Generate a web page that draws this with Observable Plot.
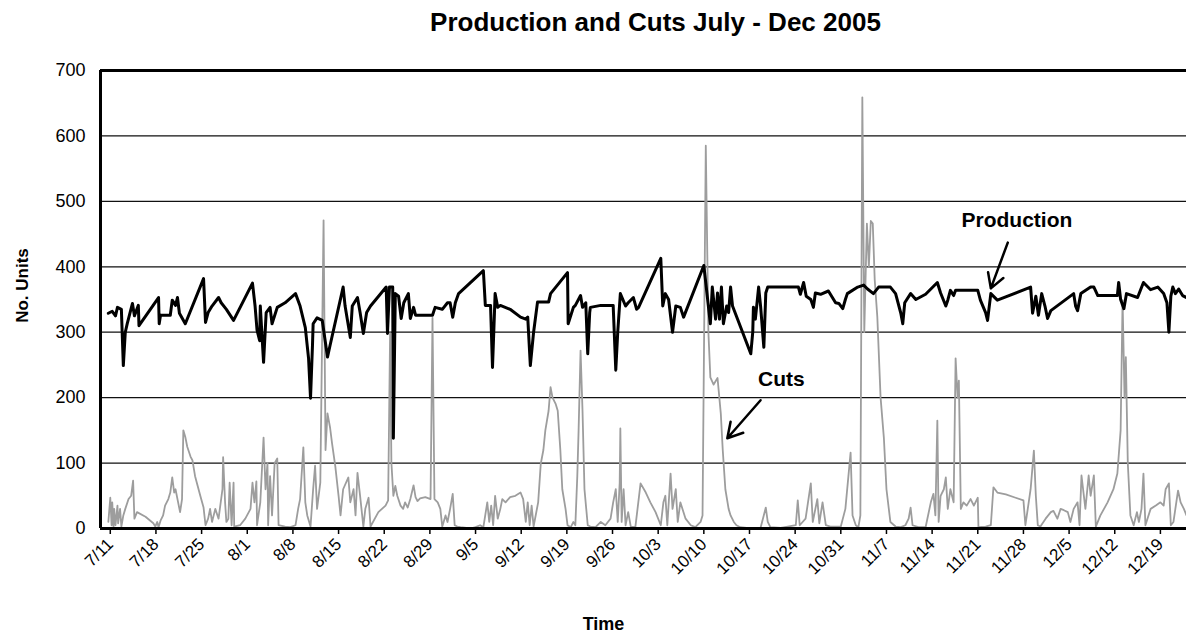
<!DOCTYPE html>
<html>
<head>
<meta charset="utf-8">
<script src="https://cdn.jsdelivr.net/npm/d3@7"></script>
<script src="https://cdn.jsdelivr.net/npm/@observablehq/plot@0.6"></script>
<style>
html, body { margin: 0; padding: 0; background: #fff; }
#chart svg { display: block; }
</style>
</head>
<body>
<div id="chart"></div>
<script>
// ---- Text ----
const chartTitle = "Production and Cuts July - Dec 2005";
const yLabel = "No. Units";
const xLabel = "Time";

// ---- Axis ticks ----
const weekLabels = ["7/11","7/18","7/25","8/1","8/8","8/15","8/22","8/29","9/5","9/12","9/19","9/26",
  "10/3","10/10","10/17","10/24","10/31","11/7","11/14","11/21","11/28","12/5","12/12","12/19"];
const yTicks = [0, 100, 200, 300, 400, 500, 600, 700];
const xStartDay = -1.5, xEndDay = 165; // days relative to 7/11/2005

// ---- Series: [day offset from 7/11/2005, units] ----
const production = [[-0.3,329],[0.3,332],[0.8,325],[1.1,338],[1.7,335],[2.0,249],[2.3,300],[2.6,313],[3.4,344],[3.7,325],
[4.3,341],[4.4,310],[7.4,353],[7.5,313],[7.7,326],[9.2,326],[9.5,349],[10.0,341],[10.3,353],[10.6,329],
[11.5,313],[14.3,382],[14.6,315],[15.0,330],[15.6,340],[16.6,353],[17.0,345],[17.8,335],[18.9,318],[21.8,375],
[22.2,340],[22.5,303],[22.9,287],[23.0,340],[23.5,254],[23.9,330],[24.5,338],[24.8,313],[25.6,338],[26.8,345],
[28.4,359],[29.1,340],[29.9,307],[30.4,260],[30.7,199],[31.0,280],[31.1,313],[31.7,322],[32.5,318],[33.3,262],
[33.7,280],[35.7,369],[36.0,340],[36.8,292],[37.1,340],[37.9,353],[38.3,330],[38.8,298],[39.3,330],[39.9,340],
[42.3,369],[42.5,298],[42.8,369],[43.3,369],[43.4,138],[43.7,359],[44.2,355],[44.6,321],[45.0,345],[45.7,359],
[46.0,321],[46.5,338],[46.8,326],[49.4,326],[49.8,338],[50.9,335],[51.7,345],[52.1,345],[52.5,323],[52.9,345],
[53.4,359],[57.2,394],[57.5,341],[58.3,341],[58.6,246],[58.9,330],[59.0,359],[59.4,338],[59.8,341],[61.3,335],
[62.9,323],[63.7,320],[64.0,323],[64.4,249],[64.9,300],[65.5,346],[67.2,346],[67.5,359],[70.1,391],[70.2,313],
[71.0,338],[71.3,341],[72.1,356],[72.4,338],[72.9,345],[73.2,267],[73.5,330],[73.6,338],[75.2,341],[77.1,341],
[77.5,242],[77.8,300],[78.2,359],[79.0,340],[79.4,345],[80.2,353],[80.7,335],[81.0,338],[84.4,413],[84.7,340],
[85.1,359],[85.6,350],[86.2,300],[86.7,340],[87.4,338],[87.9,323],[91.0,402],[92.0,313],[92.3,369],[92.8,320],
[93.1,360],[93.4,320],[93.7,369],[94.0,313],[94.5,340],[94.8,330],[95.1,369],[95.4,340],[98.2,267],[98.5,300],
[98.6,338],[98.9,320],[99.4,369],[99.7,340],[100.2,277],[100.5,360],[100.8,369],[101.7,369],[105.5,369],[105.8,358],
[106.3,376],[106.7,355],[107.4,350],[107.8,338],[108.1,360],[108.9,358],[110.1,363],[111.2,345],[111.7,344],[112.3,336],
[112.7,350],[113.0,359],[114.6,369],[115.5,372],[116.1,366],[117.0,359],[117.8,369],[119.6,369],[120.4,359],[121.2,329],
[121.5,313],[121.8,345],[122.7,359],[123.5,350],[125.0,358],[126.8,376],[127.3,360],[128.1,340],[128.4,349],[128.8,364],
[129.3,356],[129.6,364],[133.0,364],[133.4,349],[134.2,330],[134.5,318],[135.0,359],[136.0,349],[141.1,369],[141.4,329],
[141.9,355],[142.3,326],[142.8,359],[143.3,340],[143.7,321],[144.2,333],[147.7,359],[148.0,340],[148.3,333],[148.8,359],
[150.3,369],[150.8,369],[151.4,356],[154.4,356],[154.6,376],[154.9,350],[155.4,336],[155.8,359],[157.5,353],[158.4,376],
[159.5,365],[160.6,369],[161.5,359],[162.0,345],[162.3,300],[162.6,355],[162.9,369],[163.3,359],[163.8,366],[164.4,356],
[165.0,353]];

const cuts = [[-0.3,10],[0,47],[0.2,5],[0.3,40],[0.5,2],[0.6,30],[0.8,5],[1.1,35],[1.2,8],[1.5,30],
[1.7,3],[2.0,20],[2.3,30],[2.8,45],[3.2,50],[3.5,73],[3.7,15],[4.1,25],[5.4,18],[6.6,8],
[6.9,3],[7.2,10],[7.4,2],[7.7,12],[8.1,20],[8.4,35],[8.9,45],[9.2,55],[9.5,78],[9.8,55],
[10.0,60],[10.4,40],[10.7,25],[11.0,45],[11.2,150],[11.5,140],[11.8,125],[12.3,110],[12.6,104],[13.0,80],
[13.8,50],[14.3,32],[14.6,5],[15.0,15],[15.3,30],[15.6,10],[16.1,30],[16.6,15],[17.2,60],[17.3,109],
[17.6,40],[17.8,10],[18.1,15],[18.3,70],[18.6,5],[18.9,70],[19.0,3],[19.9,5],[20.7,15],[21.5,30],
[21.8,70],[22.1,40],[22.4,72],[22.5,5],[23.0,40],[23.5,139],[23.8,60],[24.1,100],[24.2,5],[24.5,80],
[24.8,20],[25.2,100],[25.6,107],[25.8,5],[26.8,3],[27.6,2],[28.4,5],[28.8,30],[29.1,45],[29.6,124],
[29.9,40],[30.2,20],[30.7,3],[31.1,60],[31.4,96],[31.7,30],[32.2,70],[32.7,471],[33.0,120],[33.3,176],
[33.7,154],[34.0,130],[34.5,95],[35.0,50],[35.3,20],[35.7,60],[36.5,78],[36.8,40],[37.3,60],[37.6,20],
[37.9,85],[38.3,50],[38.8,3],[39.1,30],[39.6,47],[39.9,3],[41.1,25],[42.2,35],[42.6,43],[42.9,298],
[43.1,100],[43.4,50],[43.7,65],[44.0,50],[44.5,35],[44.9,30],[45.2,40],[45.6,32],[46.0,45],[46.5,66],
[46.8,48],[47.1,42],[47.5,46],[48.3,48],[49.1,45],[49.4,322],[49.7,45],[50.2,40],[50.6,30],[50.9,3],
[51.4,20],[51.7,10],[52.1,30],[52.5,53],[52.8,5],[53.2,3],[53.7,2],[55.2,0],[56.0,2],[56.7,5],
[57.2,2],[57.8,40],[58.1,10],[58.4,35],[58.7,5],[59.0,50],[59.4,15],[59.8,30],[60.1,45],[60.6,40],
[61.3,48],[62.1,50],[62.9,55],[63.3,45],[63.7,10],[64.0,40],[64.3,5],[64.6,35],[64.9,3],[65.6,40],
[66.0,99],[66.4,120],[66.7,150],[67.2,180],[67.5,216],[67.8,200],[68.3,190],[68.6,180],[69.0,120],[69.3,60],
[69.8,30],[70.1,5],[70.6,2],[71.0,10],[71.3,5],[71.6,80],[71.8,150],[72.1,272],[72.4,180],[72.7,60],
[73.2,5],[73.6,3],[74.4,2],[75.2,10],[75.9,5],[76.7,15],[77.1,40],[77.5,60],[77.8,10],[78.1,70],
[78.2,153],[78.4,10],[78.7,60],[79.0,5],[79.4,25],[79.8,3],[80.5,2],[81.3,69],[82.1,55],[82.8,40],
[83.6,25],[84.4,5],[84.8,40],[85.1,50],[85.4,5],[85.9,84],[86.2,30],[86.7,60],[87.0,10],[87.4,40],
[88.2,15],[89.0,5],[89.7,2],[90.5,10],[90.8,20],[91.3,585],[91.7,300],[92.0,231],[92.5,220],[93.1,230],
[93.6,176],[93.9,120],[94.3,60],[94.8,30],[95.1,20],[95.6,10],[96.0,5],[96.6,2],[98.2,0],[99.7,1],
[100.5,32],[100.8,10],[101.2,2],[102.8,1],[105.1,5],[105.4,43],[105.7,5],[106.6,15],[107.4,69],[107.7,10],
[108.1,30],[108.4,45],[108.7,8],[109.2,40],[109.7,5],[110.4,3],[112.0,3],[112.7,30],[113.5,116],[113.8,20],
[114.3,5],[114.7,2],[115.0,20],[115.3,659],[115.6,300],[116.0,466],[116.3,400],[116.6,470],[116.9,466],[117.2,380],
[117.6,323],[118.1,200],[118.6,139],[119.0,60],[119.6,10],[120.4,3],[121.2,2],[121.9,5],[122.4,15],[122.7,32],
[123.0,5],[123.9,2],[125.0,2],[125.8,40],[126.2,53],[126.5,20],[126.8,165],[127.0,10],[127.3,50],[127.8,60],
[128.1,78],[128.4,30],[128.8,60],[129.3,40],[129.6,260],[129.9,200],[130.1,226],[130.4,30],[130.8,40],[131.3,35],
[131.9,45],[132.4,35],[133.0,47],[133.1,2],[134.2,3],[135.0,5],[135.4,63],[136.0,55],[137.3,52],[138.8,47],
[140.0,43],[140.3,5],[141.1,60],[141.6,119],[141.9,50],[142.2,5],[142.6,3],[143.4,15],[144.2,25],[144.6,27],
[145.2,15],[145.7,30],[146.2,28],[146.8,25],[147.2,10],[147.7,30],[148.3,40],[148.6,5],[148.9,81],[149.5,30],
[150.0,81],[150.3,50],[150.8,81],[151.1,3],[151.8,20],[152.9,40],[153.8,60],[154.4,84],[154.9,150],[155.2,349],
[155.5,200],[155.7,262],[156.0,100],[156.4,20],[156.9,5],[157.4,25],[157.7,10],[158.1,30],[158.4,84],[158.7,5],
[159.5,30],[160.3,35],[161.0,40],[161.5,35],[161.8,60],[162.3,69],[162.6,5],[163.0,10],[163.7,58],[164.1,40],
[164.6,30],[165.0,20]];

// ---- Annotations (data space: day offset, units) ----
const annotationLabels = [
  {label: "Production", day: 139.0, units: 471},
  {label: "Cuts", day: 102.9, units: 228}
];
const annotationArrows = [
  {fromDay: 137.6, fromUnits: 437, toDay: 135.0, toUnits: 367},
  {fromDay: 99.7, fromUnits: 196, toDay: 94.6, toUnits: 138}
];

// ---- Build ----
const baseTime = Date.UTC(2005, 6, 11);
const toDate = d => new Date(baseTime + d * 864e5);
const tickDates = weekLabels.map((_, i) => toDate(7 * i));
const labelByTime = new Map(tickDates.map((d, i) => [+d, weekLabels[i]]));
const gridValues = yTicks.filter(v => v > 0 && v < 700);

const chart = Plot.plot({
  width: 1186,
  height: 639,
  marginLeft: 100,
  marginRight: 0,
  marginTop: 70,
  marginBottom: 111,
  style: {fontFamily: "'Liberation Sans', Arial, sans-serif", background: "#fff", color: "#000"},
  x: {type: "utc", domain: [toDate(xStartDay), toDate(xEndDay)]},
  y: {domain: [0, 700]},
  marks: [
    Plot.ruleY(gridValues, {stroke: "#111", strokeWidth: 1.3}),
    Plot.ruleY([700], {stroke: "#000", strokeWidth: 3}),
    Plot.line(cuts, {x: d => toDate(d[0]), y: d => d[1], stroke: "#9d9d9d", strokeWidth: 1.8}),
    Plot.line(production, {x: d => toDate(d[0]), y: d => d[1], stroke: "#000", strokeWidth: 3}),
    Plot.ruleY([0], {stroke: "#000", strokeWidth: 3}),
    Plot.ruleX([toDate(xStartDay)], {stroke: "#000", strokeWidth: 3}),
    Plot.axisY({ticks: yTicks, tickSize: 0, tickPadding: 15, fontSize: 18, label: null}),
    Plot.axisX({ticks: tickDates, tickSize: 6, strokeWidth: 1.5, tickRotate: -45, tickPadding: 7,
      fontSize: 17, label: null, tickFormat: d => labelByTime.get(+d)}),
    Plot.text([chartTitle], {text: d => d, frameAnchor: "top", lineAnchor: "middle", textAnchor: "middle",
      dx: 12, dy: -48, fontSize: 26, fontWeight: "bold"}),
    Plot.text([yLabel], {text: d => d, frameAnchor: "left", textAnchor: "middle", lineAnchor: "middle",
      rotate: -90, dx: -78, dy: -14, fontSize: 17, fontWeight: "bold"}),
    Plot.text([xLabel], {text: d => d, frameAnchor: "bottom", lineAnchor: "middle", textAnchor: "middle",
      dx: -40, dy: 96, fontSize: 18, fontWeight: "bold"}),
    Plot.text(annotationLabels, {x: d => toDate(d.day), y: "units", text: "label", fontSize: 21, fontWeight: "bold"}),
    Plot.arrow(annotationArrows, {x1: d => toDate(d.fromDay), y1: "fromUnits", x2: d => toDate(d.toDay), y2: "toUnits",
      stroke: "#000", strokeWidth: 2.5, headLength: 14})
  ]
});
document.getElementById("chart").appendChild(chart);
</script>
</body>
</html>
